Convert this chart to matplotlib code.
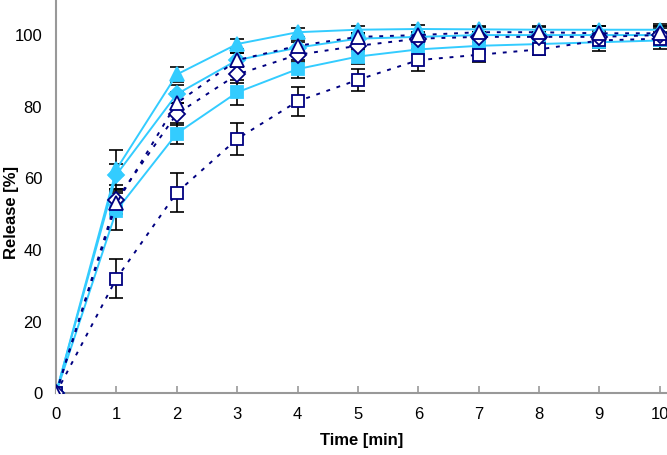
import matplotlib.pyplot as plt

# release profiles
time_min = [0, 1, 2, 3, 4, 5, 6, 7, 8, 9, 10]

tri_fill = [0, 62.5, 89, 97.5, 100.8, 101.5, 101.7, 101.6, 101.5, 101.5, 101.5]
tri_fill_err = [0, 5.5, 2, 1.5, 1.2, 1, 1, 1, 1, 1, 1]
dia_fill = [0, 61, 83.5, 93, 96.5, 99, 99.5, 100, 100, 100, 100]
dia_fill_err = [0, 3, 2.5, 2, 1.5, 1.2, 1, 1, 1, 1, 1]
sq_fill = [0, 51, 72.5, 84, 90.5, 94, 96, 97, 97.5, 98, 98.5]
sq_fill_err = [0, 5.5, 3, 3.5, 2.5, 2, 1.5, 1.5, 1.5, 1.5, 1.5]

tri_open = [0, 53, 81, 93, 97, 99.5, 100, 100.8, 100.8, 100.5, 100.5]
tri_open_err = [0, 3, 3, 2, 1.5, 1.2, 1, 1.5, 1.5, 2, 2]
dia_open = [0, 54, 78, 89, 94.5, 97, 99, 99.5, 99.5, 99.5, 100]
dia_open_err = [0, 3, 3, 2.5, 2, 1.5, 1.5, 1.5, 1.5, 3, 3]
sq_open = [0, 32, 56, 71, 81.5, 87.5, 93, 94.5, 96, 98.5, 99]
sq_open_err = [0, 5.5, 5.5, 4.5, 4, 3, 3, 2, 1.5, 3, 3]

cyan = "#33CCFF"
navy = "#000080"

plt.rcParams['font.family'] = ['Liberation Sans', 'DejaVu Sans']

fig = plt.figure(figsize=(6.67, 4.55), dpi=100)
ax = fig.add_axes([0.084, 0.136, 0.916, 0.864])

dotted = (0, (2, 3.5))

# filled cyan first, open navy symbols on top
series = [
    (sq_fill, sq_fill_err, "s", cyan, cyan, "-", 9),
    (dia_fill, dia_fill_err, "D", cyan, cyan, "-", 8),
    (tri_fill, tri_fill_err, "^", cyan, cyan, "-", 10),
    (sq_open, sq_open_err, "s", navy, "white", dotted, 9),
    (dia_open, dia_open_err, "D", navy, "white", dotted, 8),
    (tri_open, tri_open_err, "^", navy, "white", dotted, 10),
]

for vals, errs, mk, col, face, ls, ms in series:
    ax.errorbar(time_min, vals, yerr=errs, fmt="none", ecolor="black",
                elinewidth=1.2, capsize=5, capthick=1.2, zorder=2)
    ax.plot(time_min, vals, linestyle=ls, color=col, linewidth=1.4,
            marker=mk, markersize=ms, markerfacecolor=face,
            markeredgecolor=col, markeredgewidth=1.3, zorder=3)

ax.set_xlim(0, 10.12)
ax.set_ylim(0, 109.8)
ax.set_xticks(range(0, 11))
ax.set_yticks(range(0, 101, 20))
ax.tick_params(labelsize=12, color="#999999", length=5, width=1.2)
ax.tick_params(axis="x", direction="in", pad=10)
ax.tick_params(axis="y", length=0, pad=10)

for side in ["top", "right"]:
    ax.spines[side].set_visible(False)
for side in ["left", "bottom"]:
    ax.spines[side].set_color("#999999")
    ax.spines[side].set_linewidth(1.5)

ax.set_xlabel("Time [min]", fontsize=12, fontweight="bold", labelpad=8)
ax.set_ylabel("Release [%]", fontsize=12, fontweight="bold")
ax.yaxis.set_label_coords(-0.061, 0.46)

fig.savefig("out.png")
